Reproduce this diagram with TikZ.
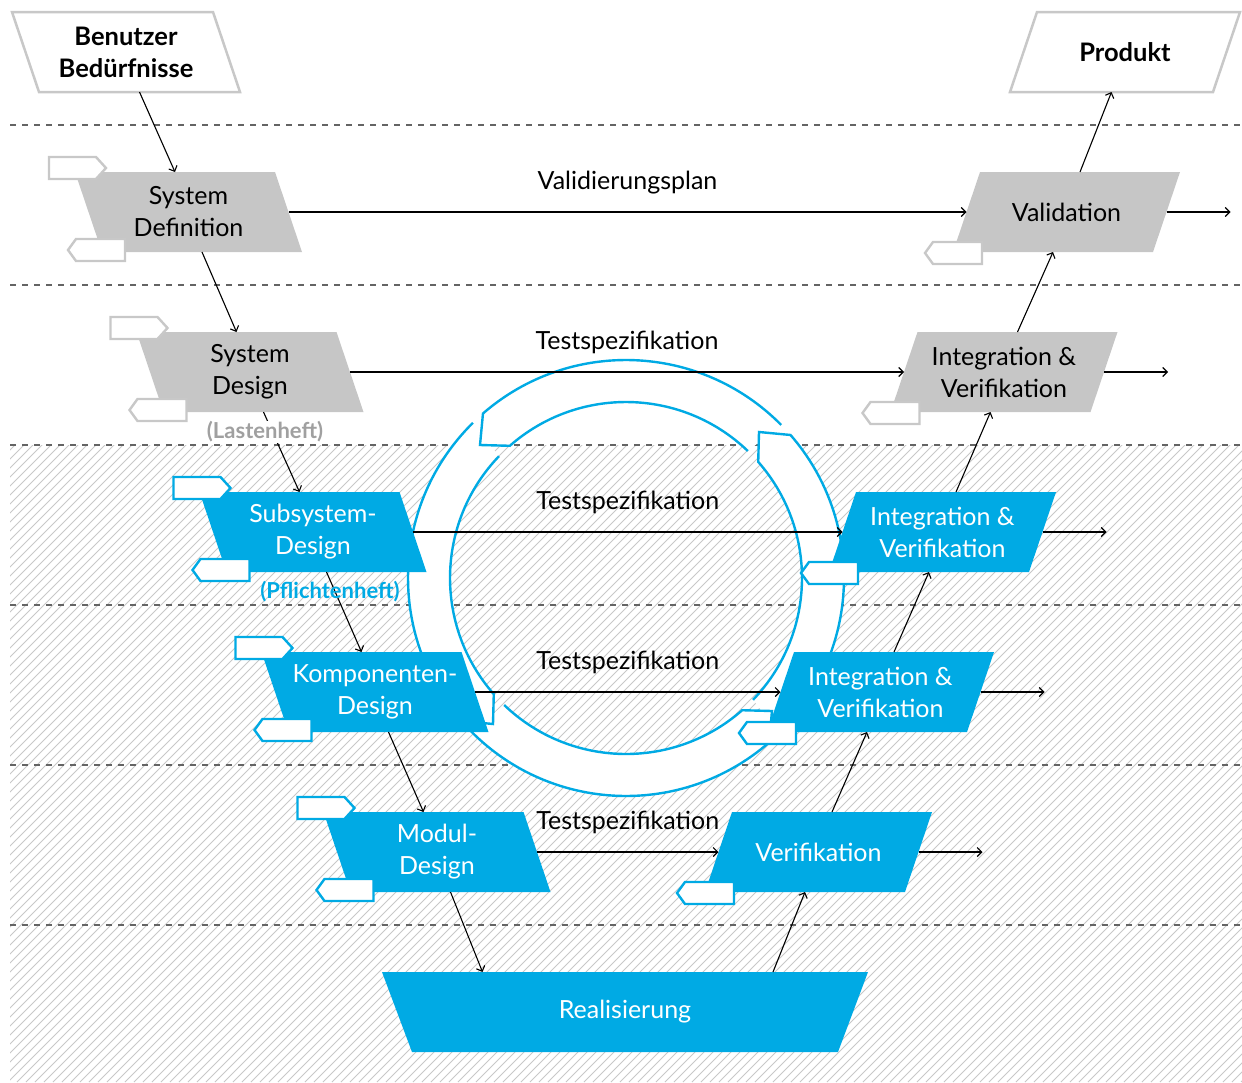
\documentclass[tikz,border=0pt]{standalone}
\usepackage{fontspec}
\setmainfont{Lato}
\usetikzlibrary{arrows.meta,calc}
\pgfdeclarelayer{back}
\pgfdeclarelayer{background}
\pgfsetlayers{back,background,main}
\definecolor{vblue}{RGB}{0,170,228}
\definecolor{vgray}{RGB}{198,198,198}
\definecolor{vline}{RGB}{200,200,200}
\definecolor{hatchc}{RGB}{200,200,200}
\definecolor{dashc}{RGB}{100,100,100}
\definecolor{lastenc}{RGB}{160,160,160}
\tikzset{
  box/.style={rectangle, minimum height=80pt, minimum width=227pt, inner sep=0pt, outer sep=0pt,
    align=center, font=\fontsize{25}{32}\selectfont},
  graynode/.style={text=black},
  bluenode/.style={text=white},
  endnode/.style={text=black, font=\bfseries\fontsize{25.5}{32}\selectfont},
  grayfill/.style={fill=vgray},
  bluefill/.style={fill=vblue},
  endfill/.style={fill=white, draw=vline, line width=2.5pt},
  tagstyle/.style={fill=white, draw=#1, line width=2.4pt},
  conn/.style={draw=black, line width=1.1pt, -{Straight Barb[length=4.5pt,width=9pt]}},
  lbl/.style={midway, anchor=base, yshift=23pt, font=\fontsize{25}{28}\selectfont, text=black, inner sep=0pt},
  dashline/.style={draw=dashc, line width=1.3pt, dash pattern=on 6pt off 6pt},
  hatchline/.style={draw=hatchc, line width=0.9pt},
  ringline/.style={draw=vblue, line width=2.4pt},
  doclabel/.style={font=\bfseries\fontsize{22}{24}\selectfont, inner sep=0.5pt},
}
% left-leaning parallelogram (top shifted left) behind node #1
\newcommand\lshape[2]{%
  \begin{pgfonlayer}{background}
  \path[#2] (#1.north west) -- ($(#1.north east)+(-27,0)$) -- (#1.south east) -- ($(#1.south west)+(27,0)$) -- cycle;
  \end{pgfonlayer}
  \coordinate (#1-t) at ($(#1.north)+(-13.5,0)$);
  \coordinate (#1-b) at ($(#1.south)+(13.5,0)$);
  \coordinate (#1-l) at ($(#1.west)+(13.5,0)$);
  \coordinate (#1-r) at ($(#1.east)+(-13.5,0)$);
  \coordinate (#1-tl) at (#1.north west);
  \coordinate (#1-bl) at ($(#1.south west)+(27,0)$);}
% right-leaning parallelogram (top shifted right) behind node #1
\newcommand\rshape[2]{%
  \begin{pgfonlayer}{background}
  \path[#2] ($(#1.north west)+(27,0)$) -- (#1.north east) -- ($(#1.south east)+(-27,0)$) -- (#1.south west) -- cycle;
  \end{pgfonlayer}
  \coordinate (#1-t) at ($(#1.north)+(13.5,0)$);
  \coordinate (#1-b) at ($(#1.south)+(-13.5,0)$);
  \coordinate (#1-l) at ($(#1.west)+(13.5,0)$);
  \coordinate (#1-r) at ($(#1.east)+(-13.5,0)$);
  \coordinate (#1-bl) at (#1.south west);}
\newcommand\vtoptag[2]{\draw[tagstyle=#2] ($(#1-tl)+(-26,-15)$) -- ++(47,0) -- ++(10,11) -- ++(-10,11) -- ++(-47,0) -- cycle;}
\newcommand\vbottag[3]{\draw[tagstyle=#2] ($(#1-bl)+#3$) -- ++(8,-11) -- ++(49,0) -- ++(0,22) -- ++(-49,0) -- cycle;}
\begin{document}
\begin{tikzpicture}[x=1pt,y=-1pt]
\useasboundingbox (0,0) rectangle (1242,1082);
\begin{pgfonlayer}{back}
% hatch background
\begin{scope}
  \clip (10,445) rectangle (1242,1082);
  \foreach \i in {-640,-631,...,1242} \draw[hatchline] (\i,1082) -- ++(640,-640);
\end{scope}
% level separators
\foreach \y in {125,285,445,605,765,925} \draw[dashline] (10,\y) -- (1242,\y);
% circular arrows
\coordinate (c) at (626,578);
\foreach \so/\eo/\si/\ei/\cx/\cy in {-131/-44.6/-131.3/-46.2/480/445, -41/45.4/-41.3/43.8/759/432, 49/135.4/48.7/133.8/772/711, 139/225.4/138.7/223.8/493/724}
  \fill[white] ($(c)+(\so:218)$) arc[start angle=\so, end angle=\eo, radius=218] -- ($(c)+(\ei:176)$) arc[start angle=\ei, end angle=\si, radius=176] -- (\cx,\cy) -- cycle;
\foreach \so/\eo/\si/\ei/\cx/\cy in {-131/-44.6/-131.3/-46.2/480/445, -41/45.4/-41.3/43.8/759/432, 49/135.4/48.7/133.8/772/711, 139/225.4/138.7/223.8/493/724}
  \draw[ringline] ($(c)+(\eo:218)$) arc[start angle=\eo, end angle=\so, radius=218] -- (\cx,\cy) -- ($(c)+(\si:176)$) arc[start angle=\si, end angle=\ei, radius=176];
\end{pgfonlayer}
% nodes
\node[box, endnode, minimum width=228pt] (bb) at (126,52) {Benutzer\\Bedürfnisse}; \lshape{bb}{endfill}
\node[box, endnode, minimum width=230pt] (pr) at (1125,52) {Produkt}; \rshape{pr}{endfill}
\node[box, graynode] (sd) at (188.5,212) {System\\Definition}; \lshape{sd}{grayfill}
\node[box, graynode] (sdes) at (250,372) {System\\Design}; \lshape{sdes}{grayfill}
\node[box, bluenode] (sub) at (313,532) {Subsystem-\\Design}; \lshape{sub}{bluefill}
\node[box, bluenode] (kom) at (375,692) {Komponenten-\\Design}; \lshape{kom}{bluefill}
\node[box, bluenode] (mod) at (437,852) {Modul-\\Design}; \lshape{mod}{bluefill}
\node[box, bluenode, minimum width=486pt] (real) at (625,1012) {Realisierung};
\begin{pgfonlayer}{background}
\fill[vblue] (real.north west) -- (real.north east) -- ($(real.south east)+(-30,0)$) -- ($(real.south west)+(30,0)$) -- cycle;
\end{pgfonlayer}
\node[box, bluenode] (ver) at (818.5,852) {Verifikation}; \rshape{ver}{bluefill}
\node[box, bluenode] (iv4) at (880.5,692) {Integration \&\\Verifikation}; \rshape{iv4}{bluefill}
\node[box, bluenode] (iv3) at (942.5,532) {Integration \&\\Verifikation}; \rshape{iv3}{bluefill}
\node[box, graynode] (iv2) at (1004,372) {Integration \&\\Verifikation}; \rshape{iv2}{grayfill}
\node[box, graynode] (val) at (1066.5,212) {Validation}; \rshape{val}{grayfill}
% tags
\vtoptag{sd}{vline} \vtoptag{sdes}{vline}
\vtoptag{sub}{vblue} \vtoptag{kom}{vblue} \vtoptag{mod}{vblue}
\vbottag{sd}{vline}{(-34,-2)} \vbottag{sdes}{vline}{(-34,-2)}
\vbottag{sub}{vblue}{(-34,-2)} \vbottag{kom}{vblue}{(-34,-2)} \vbottag{mod}{vblue}{(-34,-2)}
\vbottag{val}{vline}{(-28,1)} \vbottag{iv2}{vline}{(-28,1)}
\vbottag{iv3}{vblue}{(-28,1)} \vbottag{iv4}{vblue}{(-28,1)} \vbottag{ver}{vblue}{(-28,1)}
% vertical connectors
\coordinate (realin) at ($(mod-b)+(32,80)$);
\coordinate (realout) at ($(ver-b)+(-32,80)$);
\draw[conn] (bb-b) -- (sd-t);
\draw[conn] (sd-b) -- (sdes-t);
\draw[conn] (sdes-b) -- (sub-t);
\draw[conn] (sub-b) -- (kom-t);
\draw[conn] (kom-b) -- (mod-t);
\draw[conn] (mod-b) -- (realin);
\draw[conn] (realout) -- (ver-b);
\draw[conn] (ver-t) -- (iv4-b);
\draw[conn] (iv4-t) -- (iv3-b);
\draw[conn] (iv3-t) -- (iv2-b);
\draw[conn] (iv2-t) -- (val-b);
\draw[conn] (val-t) -- (pr-b);
% horizontal connectors
\draw[conn] (sd-r) -- node[lbl]{Validierungsplan} (val-l);
\draw[conn] (sdes-r) -- node[lbl]{Testspezifikation} (iv2-l);
\draw[conn] (sub-r) -- node[lbl]{Testspezifikation} (iv3-l);
\draw[conn] (kom-r) -- node[lbl]{Testspezifikation} (iv4-l);
\draw[conn] (mod-r) -- node[lbl]{Testspezifikation} (ver-l);
% outgoing
\coordinate (o1) at ($(val-r)+(64,0)$);
\coordinate (o2) at ($(iv2-r)+(64,0)$);
\coordinate (o3) at ($(iv3-r)+(64,0)$);
\coordinate (o4) at ($(iv4-r)+(64,0)$);
\coordinate (o5) at ($(ver-r)+(64,0)$);
\draw[conn] (val-r) -- (o1);
\draw[conn] (iv2-r) -- (o2);
\draw[conn] (iv3-r) -- (o3);
\draw[conn] (iv4-r) -- (o4);
\draw[conn] (ver-r) -- (o5);
% document labels
\node[doclabel, text=lastenc, fill=white] (lh) at (265,432) {(Lastenheft)};
\node[doclabel, text=vblue] (ph) at (330,592) {(Pflichtenheft)};
\end{tikzpicture}
\end{document}
